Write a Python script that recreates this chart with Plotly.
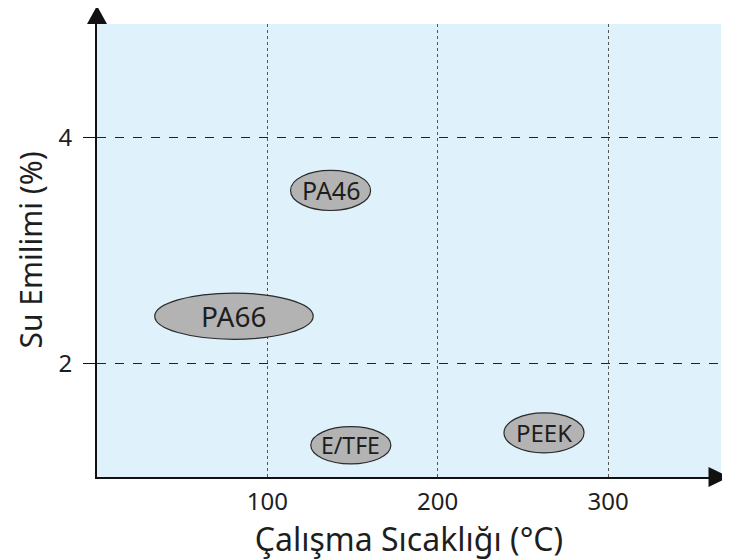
import plotly.graph_objects as go

# Data
materials = ["PA46", "PA66", "E/TFE", "PEEK"]
temp_center = [137.1, 80.4, 149.0, 262.4]       # °C
temp_halfwidth = [23.5, 46.5, 23.5, 23.5]
water_center = [3.53, 2.42, 1.28, 1.39]          # %
water_halfheight = [0.177, 0.204, 0.164, 0.177]
label_sizes = [25, 28, 23, 24]

x_ticks = [100, 200, 300]
y_ticks = [2, 4]
x_range = [0, 366.3]
y_range = [1, 5.0]

x_title = "Çalışma Sıcaklığı (°C)"
y_title = "Su Emilimi (%)"

FONT = "Noto Sans"
TXT = "#1e1e1e"

fig = go.Figure()
fig.add_trace(go.Scatter(x=temp_center, y=water_center, mode="markers",
                         marker=dict(size=1, opacity=0), hoverinfo="skip",
                         showlegend=False))

shapes = []
for cx, cy, hw, hh in zip(temp_center, water_center, temp_halfwidth, water_halfheight):
    shapes.append(dict(type="circle", xref="x", yref="y",
                       x0=cx - hw, x1=cx + hw, y0=cy - hh, y1=cy + hh,
                       fillcolor="#b3b3b3", line=dict(color="#2b2b2b", width=1.2),
                       layer="above"))

# arrowheads
shapes.append(dict(type="path", xref="paper", yref="paper",
                   path="M -0.016 1.0 L 0.016 1.0 L 0 1.04 Z",
                   fillcolor="#111", line=dict(width=0)))
shapes.append(dict(type="path", xref="paper", yref="paper",
                   path="M 0.98 -0.022 L 0.98 0.022 L 1.013 0 Z",
                   fillcolor="#111", line=dict(width=0)))

annotations = []
for name, cx, cy, fs in zip(materials, temp_center, water_center, label_sizes):
    annotations.append(dict(x=cx, y=cy, xref="x", yref="y", text=name,
                            showarrow=False, font=dict(family=FONT, size=fs, color=TXT)))

# y-axis title as rotated annotation
annotations.append(dict(x=0, y=0.5, xref="paper", yref="paper", text=y_title,
                        textangle=-90, xanchor="center", yanchor="middle",
                        xshift=-67, showarrow=False, borderpad=0,
                        font=dict(family=FONT, size=30, color=TXT)))

fig.update_layout(
    width=722, height=552,
    margin=dict(l=89, r=9, t=16, b=83, autoexpand=False),
    paper_bgcolor="white",
    plot_bgcolor="#dff1fb",
    showlegend=False,
    shapes=shapes,
    annotations=annotations,
    font=dict(family=FONT, color=TXT),
    xaxis=dict(range=x_range, tickvals=x_ticks, ticktext=[str(v) for v in x_ticks],
               showgrid=True, gridcolor="#555555", griddash="dot", gridwidth=1.2,
               zeroline=False, showline=True, linecolor="#111", linewidth=2,
               ticks="", tickfont=dict(size=24, color=TXT), ticklabelstandoff=2,
               automargin=False,
               title=dict(text=x_title, font=dict(size=32, color=TXT), standoff=5),
               fixedrange=True),
    yaxis=dict(range=y_range, tickvals=y_ticks, ticktext=[str(v) for v in y_ticks],
               showgrid=True, gridcolor="#222222", griddash="dash", gridwidth=1,
               zeroline=False, showline=True, linecolor="#111", linewidth=2,
               ticks="outside", ticklen=12, tickcolor="#111", tickwidth=1.2,
               tickfont=dict(size=24, color=TXT), ticklabelstandoff=6,
               automargin=False,
               fixedrange=True),
)

fig.write_html("out.html")
